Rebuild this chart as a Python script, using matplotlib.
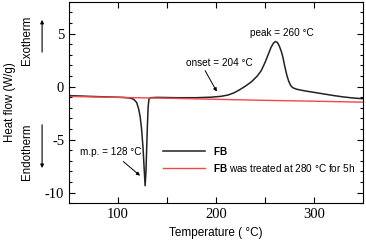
import numpy as np
import matplotlib
matplotlib.use("Agg")
from matplotlib import pyplot as plt

# DSC curves
temp_fb = [50, 70, 90, 105, 112, 116, 119, 121, 122.5, 124, 125.5, 126.5, 127.6,
           128.5, 129.3, 130, 130.7, 131.5, 133, 140, 160, 180, 195, 205, 212,
           218, 224, 230, 236, 242, 246, 250, 253, 256, 258.5, 260.5, 262.5,
           264.5, 266.5, 268, 270, 272, 274, 276, 278, 282, 290, 300, 310, 320,
           330, 340, 350]
heat_fb = [-0.85, -0.92, -0.98, -1.02, -1.08, -1.2, -1.5, -2.1, -2.8, -4.0, -5.8,
           -7.5, -9.35, -8.0, -5.5, -3.5, -1.9, -1.2, -1.05, -1.02, -1.05, -1.05,
           -1.0, -0.92, -0.8, -0.6, -0.3, 0.05, 0.45, 1.0, 1.5, 2.3, 3.0, 3.7,
           4.1, 4.25, 4.15, 3.8, 3.3, 2.8, 1.9, 1.1, 0.5, 0.1, -0.1, -0.25, -0.4,
           -0.55, -0.7, -0.85, -0.98, -1.08, -1.15]

temp_treated = [50, 100, 150, 200, 250, 300, 350]
heat_treated = [-0.93, -1.02, -1.1, -1.2, -1.3, -1.38, -1.47]

plt.rcParams['font.family'] = 'Liberation Sans'
plt.rcParams['mathtext.fontset'] = 'custom'
plt.rcParams['mathtext.rm'] = 'Liberation Sans'
plt.rcParams['mathtext.bf'] = 'Liberation Sans:bold'

fig = plt.figure(figsize=(3.66, 2.44), dpi=100)
ax = fig.add_axes([0.1885, 0.167, 0.804, 0.826])

ax.plot(temp_fb, heat_fb, color='#222222', lw=1.1, label=r'$\mathbf{FB}$')
ax.plot(temp_treated, heat_treated, color='#f04848', lw=1.0,
        label=r'$\mathbf{FB}$ was treated at 280 °C for 5h')

ax.set_xlim(50, 350)
ax.set_ylim(-11, 8)
ax.set_xticks([100, 200, 300])
ax.set_xticks([150, 250], minor=True)
ax.set_yticks([-10, -5, 0, 5])
ax.set_yticks(np.arange(-11, 9, 1), minor=True)
ax.tick_params(which='both', direction='in', top=True, right=True, width=0.8)
ax.tick_params(which='major', length=4)
ax.tick_params(which='minor', length=2.5)
ax.tick_params(axis='x', which='minor', length=4)
ax.set_yticklabels(['-10', '-5', '0', '5'])
for lab in ax.get_xticklabels() + ax.get_yticklabels():
    lab.set_fontfamily('Liberation Serif')
    lab.set_fontsize(10.5)

ax.set_xlabel('Temperature ( °C)', fontsize=8.5, labelpad=4)
fig.text(0.027, 0.58, 'Heat flow (W/g)', rotation=90, fontsize=8.3,
         ha='center', va='center')
fig.text(0.074, 0.836, 'Exotherm', rotation=90, fontsize=8.3, ha='center', va='center')
fig.text(0.074, 0.38, 'Endotherm', rotation=90, fontsize=8.3, ha='center', va='center')
fig.patches.append(matplotlib.patches.FancyArrowPatch(
    (0.115, 0.775), (0.115, 0.93), transform=fig.transFigure,
    arrowstyle='-|>', mutation_scale=5, lw=0.8, color='black'))
fig.patches.append(matplotlib.patches.FancyArrowPatch(
    (0.115, 0.5), (0.115, 0.3), transform=fig.transFigure,
    arrowstyle='-|>', mutation_scale=5, lw=0.8, color='black'))

arrow = dict(arrowstyle='-|>', color='black', lw=0.7, mutation_scale=5, shrinkA=0, shrinkB=0)
ax.annotate('', xy=(122.4, -8.4), xytext=(105.4, -7.07), arrowprops=arrow)
ax.text(92.7, -6.13, 'm.p. = 128 °C', fontsize=7.2, ha='center', va='center')
ax.annotate('', xy=(200.7, -0.47), xytext=(188.8, 1.5), arrowprops=arrow)
ax.text(203, 2.24, 'onset = 204 °C', fontsize=7.2, ha='center', va='center')
ax.text(267, 5.05, 'peak = 260 °C', fontsize=7.2, ha='center', va='center')

ax.legend(loc='center left', bbox_to_anchor=(0.32, 0.219), frameon=False,
          fontsize=7.2, handlelength=4.2, handletextpad=0.8, labelspacing=0.5,
          borderpad=0, borderaxespad=0)

fig.savefig('out.png', dpi=100)
